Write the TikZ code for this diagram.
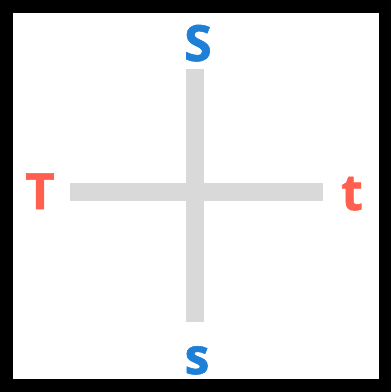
\documentclass[tikz,border=0pt]{standalone}
\usepackage{fontspec}
\setmainfont{Open Sans}[BoldFeatures={FakeBold=1.2}]
\usepackage{xcolor}
\usepackage{tikz}
\usetikzlibrary{positioning}
\definecolor{letterblue}{HTML}{1E7FD6}
\definecolor{letterred}{HTML}{FF5F4F}
\definecolor{bargray}{HTML}{D9D9D9}
\tikzstyle{bluelabel} = [anchor=base, inner sep=0pt, text=letterblue, font=\fontsize{50}{50}\selectfont\bfseries]
\tikzstyle{redlabel} = [anchor=base, inner sep=0pt, text=letterred, font=\fontsize{50}{50}\selectfont\bfseries]
\tikzstyle{bar} = [bargray, line width=18pt, line cap=butt]

\begin{document}
\begin{tikzpicture}[x=1pt, y=-1pt]

  % === FRAME ===
  \useasboundingbox (0,0) rectangle (391,392);
  \draw[black, line width=13pt] (6.5,6.5) rectangle (385,385.5);

  % === LABELS ===
  \node (S) [bluelabel] at (198,61) {S};
  \node (s) [bluelabel] at (197,374) {s};
  \node (T) [redlabel] at (40,209) {T};
  \node (t) [redlabel] at (352,210) {t};

  % === BAR ENDS ===
  \coordinate (top) at (195,69);
  \coordinate (bottom) at (195,322);
  \coordinate (left) at (70,192);
  \coordinate (right) at (323,192);

  % === CROSS ===
  \draw[bar] (top) -- (bottom);
  \draw[bar] (left) -- (right);

\end{tikzpicture}
\end{document}
